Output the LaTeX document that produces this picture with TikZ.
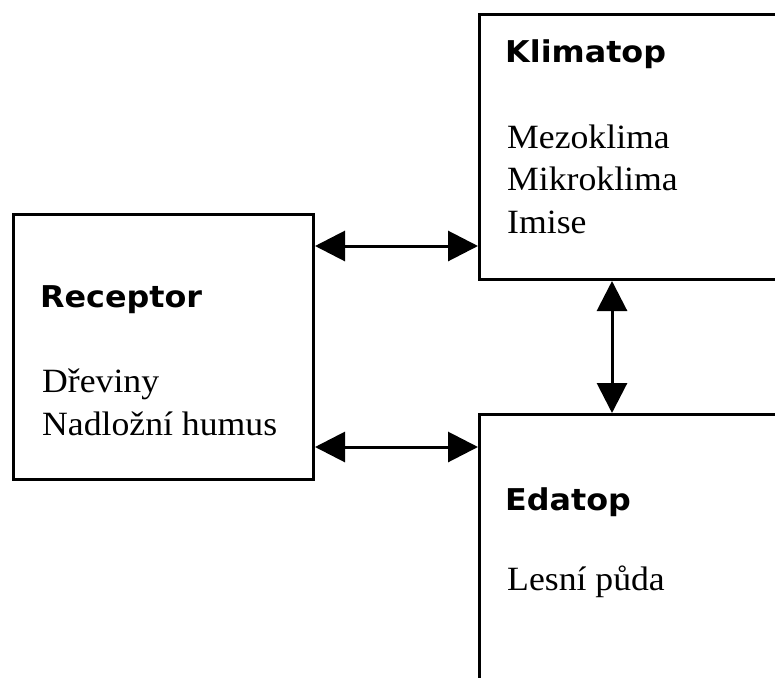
\documentclass[tikz,border=0pt]{standalone}
\usepackage{fontspec}
\usepackage{tikz}
\usetikzlibrary{arrows.meta}
\newfontfamily\ecoserif[FakeStretch=1.05]{Liberation Serif}
\newfontfamily\ecosans[FakeStretch=1.06]{DejaVu Sans}
\tikzset{
    eco box/.style={
        draw,
        line width=3pt,
        anchor=north west,
        inner sep=0pt
    },
    eco title/.style={
        anchor=base west,
        inner sep=0pt,
        font=\ecosans\bfseries\fontsize{30}{32}\selectfont
    },
    eco item/.style={
        anchor=base west,
        inner sep=0pt,
        align=left,
        font=\ecoserif\fontsize{34}{42.5}\selectfont
    },
    eco arrow/.style={{Triangle[length=30pt,width=30pt]}-{Triangle[length=30pt,width=30pt]}, line width=3pt}
}

\begin{document}
\begin{tikzpicture}[x=1pt,y=-1pt]
    \clip (0,0) rectangle (775,677);
    \fill[white] (0,0) rectangle (775,677);

    \node[eco box, minimum width=300pt, minimum height=265pt] (recbox) at (12,213) {};
    \node[eco box, minimum width=400pt, minimum height=265pt] (klibox) at (478,13) {};
    \node[eco box, minimum width=400pt, minimum height=400pt] (edabox) at (478,413) {};

    % multi-line texts sit on the baseline of their last line
    \node[eco title] (rectitle) at (40,307) {Receptor};
    \node[eco item] (recitems) at (42,435) {Dřeviny\\Nadložní humus};
    \node[eco title] (klititle) at (505,63) {Klimatop};
    \node[eco item] (kliitems) at (507,233) {Mezoklima\\Mikroklima\\Imise};
    \node[eco title] (edatitle) at (505,510) {Edatop};
    \node[eco item] (edaitems) at (507,590) {Lesní půda};

    \draw[eco arrow] (recbox.east |- 0,246) -- (klibox.west |- 0,246);
    \draw[eco arrow] (recbox.east |- 0,447) -- (edabox.west |- 0,447);
    \draw[eco arrow] (klibox.south -| 612,0) -- (edabox.north -| 612,0);
\end{tikzpicture}
\end{document}
